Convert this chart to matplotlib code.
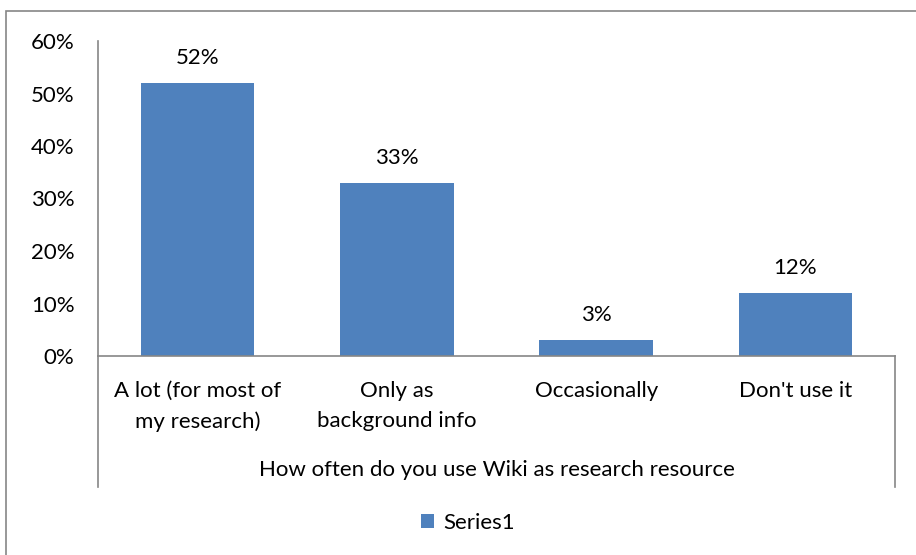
import matplotlib.pyplot as plt
from matplotlib.patches import Rectangle
from matplotlib.ticker import FuncFormatter

plt.rcParams["font.family"] = ["Lato", "DejaVu Sans"]

categories = [
    "A lot (for most of\nmy research)",
    "Only as\nbackground info",
    "Occasionally",
    "Don't use it",
]
values = [52, 33, 3, 12]
group_label = "How often do you use Wiki as research resource"
series_name = "Series1"

BAR_COLOR = "#4F81BD"
LINE_COLOR = "#868686"
FS = 16

fig = plt.figure(figsize=(9.16, 5.55), dpi=100)
fig.patches.append(
    Rectangle((6 / 916, -0.1), 1.2, 1.1 - 11 / 555, transform=fig.transFigure,
              fill=False, edgecolor=LINE_COLOR, linewidth=1.2)
)

ax = fig.add_axes([98 / 916, 1 - 356 / 555, (895 - 98) / 916, (356 - 41) / 555])
x = list(range(len(categories)))
bars = ax.bar(x, values, width=0.57, color=BAR_COLOR, label=series_name)

ax.set_xlim(-0.5, len(categories) - 0.5)
ax.set_ylim(0, 60)
ax.set_yticks(range(0, 61, 10))
ax.yaxis.set_major_formatter(FuncFormatter(lambda v, _: f"{v:.0f}%"))
ax.tick_params(axis="y", length=0, pad=17, labelsize=FS)
ax.set_xticks(x)
ax.set_xticklabels(categories, fontsize=FS, linespacing=1.6, va="top")
ax.tick_params(axis="x", length=0, pad=18)

for side in ("top", "right"):
    ax.spines[side].set_visible(False)
for side in ("left", "bottom"):
    ax.spines[side].set_color(LINE_COLOR)
    ax.spines[side].set_linewidth(1.2)

# extend the outer edges of the category axis down around the group label
drop = -(487 - 356) / (356 - 41)
ax.plot([0, 0], [drop, 0], transform=ax.transAxes, color=LINE_COLOR,
        linewidth=1.2, clip_on=False)
ax.plot([1, 1], [drop, 0], transform=ax.transAxes, color=LINE_COLOR,
        linewidth=1.2, clip_on=False)
ax.text(0.5, -(470 - 356) / (356 - 41), group_label, transform=ax.transAxes,
        ha="center", va="center", fontsize=FS)

for rect, v in zip(bars, values):
    ax.annotate(f"{v}%", (rect.get_x() + rect.get_width() / 2, v),
                xytext=(0, 18), textcoords="offset points",
                ha="center", va="center", fontsize=FS)

fig.legend(loc="center", bbox_to_anchor=(468 / 916, 1 - 523 / 555),
           frameon=False, fontsize=FS, handlelength=0.6, handleheight=0.6,
           handletextpad=0.4)

fig.savefig("out.png", dpi=100)
